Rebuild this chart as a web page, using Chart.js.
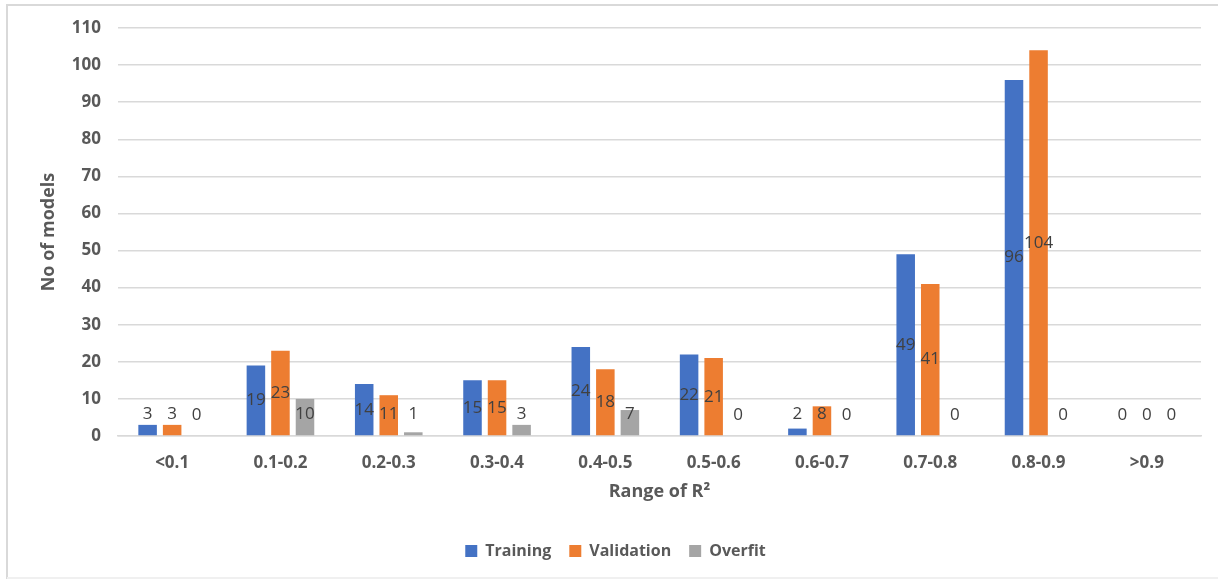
<!DOCTYPE html>
<html>
<head>
<meta charset="utf-8">
<script src="https://cdn.jsdelivr.net/npm/chart.js@4/dist/chart.umd.min.js"></script>
<style>
  html, body { margin: 0; padding: 0; background: #ffffff; }
  #wrap { position: relative; width: 1218px; height: 580px; }
</style>
</head>
<body>
<div id="wrap"><canvas id="c" width="1218" height="580"></canvas></div>
<script>
// R² ranges and model counts per range
const categories = ['<0.1', '0.1-0.2', '0.2-0.3', '0.3-0.4', '0.4-0.5', '0.5-0.6', '0.6-0.7', '0.7-0.8', '0.8-0.9', '>0.9'];
const training   = [3, 19, 14, 15, 24, 22, 2, 49, 96, 0];
const validation = [3, 23, 11, 15, 18, 21, 8, 41, 104, 0];
const overfit    = [0, 10, 1, 3, 7, 0, 0, 0, 0, 0];
const yTicks = { min: 0, max: 110, step: 10 };

const FONT = "'Open Sans', 'Noto Sans', sans-serif";
const GREY_TEXT = '#595959';
const GRID = '#d9d9d9';

// Frame and white background behind the chart
const framePlugin = {
  id: 'frame',
  beforeDraw(chart) {
    const ctx = chart.ctx;
    ctx.save();
    ctx.fillStyle = '#ffffff';
    ctx.fillRect(0, 0, chart.width, chart.height);
    ctx.strokeStyle = GRID;
    ctx.lineWidth = 2;
    ctx.beginPath();
    ctx.moveTo(7, 579);
    ctx.lineTo(7, 5);
    ctx.lineTo(chart.width, 5);
    ctx.stroke();
    ctx.strokeStyle = '#f0f0f0';
    ctx.beginPath();
    ctx.moveTo(7, 578);
    ctx.lineTo(chart.width, 578);
    ctx.stroke();
    ctx.restore();
  }
};

// Value labels: centred in each bar, but kept clear of the baseline for short bars
const valueLabels = {
  id: 'valueLabels',
  afterDatasetsDraw(chart) {
    const ctx = chart.ctx;
    ctx.save();
    ctx.font = "17px " + FONT;
    ctx.fillStyle = '#404040';
    ctx.textAlign = 'center';
    ctx.textBaseline = 'middle';
    chart.data.datasets.forEach((ds, di) => {
      const meta = chart.getDatasetMeta(di);
      meta.data.forEach((bar, i) => {
        const mid = (bar.y + bar.base) / 2;
        const y = Math.min(mid, bar.base - 21);
        ctx.fillText(String(ds.data[i]), bar.x, y);
      });
    });
    ctx.restore();
  }
};

new Chart(document.getElementById('c'), {
  type: 'bar',
  data: {
    labels: categories,
    datasets: [
      { label: 'Training',   data: training,   backgroundColor: '#4472C4' },
      { label: 'Validation', data: validation, backgroundColor: '#ED7D31' },
      { label: 'Overfit',    data: overfit,    backgroundColor: '#A5A5A5' }
    ]
  },
  options: {
    responsive: false,
    animation: false,
    devicePixelRatio: 1,
    datasets: { bar: { categoryPercentage: 0.68, barPercentage: 0.755 } },
    layout: { padding: { left: 30, right: 17, top: 28, bottom: 11 } },
    plugins: {
      legend: {
        position: 'bottom',
        labels: {
          font: { family: FONT, size: 16, weight: 'bold' },
          color: GREY_TEXT,
          boxWidth: 12,
          boxHeight: 12,
          padding: 18
        }
      },
      tooltip: { enabled: false }
    },
    scales: {
      x: {
        grid: { display: false, drawTicks: false },
        border: { display: true, color: GRID, width: 1.5 },
        ticks: {
          font: { family: FONT, size: 17, weight: 'bold' },
          color: GREY_TEXT,
          padding: 17,
          maxRotation: 0,
          autoSkip: false
        },
        title: {
          display: true,
          text: 'Range of R²',
          font: { family: FONT, size: 18, weight: 'bold' },
          color: GREY_TEXT,
          padding: { top: 0, bottom: 22 }
        },
        afterFit(scale) { scale.height = 89; }
      },
      y: {
        min: yTicks.min,
        max: yTicks.max,
        grid: { color: GRID, lineWidth: 1.5, drawTicks: false },
        border: { display: false },
        ticks: {
          stepSize: yTicks.step,
          font: { family: FONT, size: 17, weight: 'bold' },
          color: GREY_TEXT,
          padding: 17
        },
        title: {
          display: true,
          text: 'No of models',
          font: { family: FONT, size: 18, weight: 'bold' },
          color: GREY_TEXT,
          padding: { top: 8, bottom: 0 }
        },
        afterFit(scale) { scale.width = 88; }
      }
    }
  },
  plugins: [framePlugin, valueLabels]
});
</script>
</body>
</html>
